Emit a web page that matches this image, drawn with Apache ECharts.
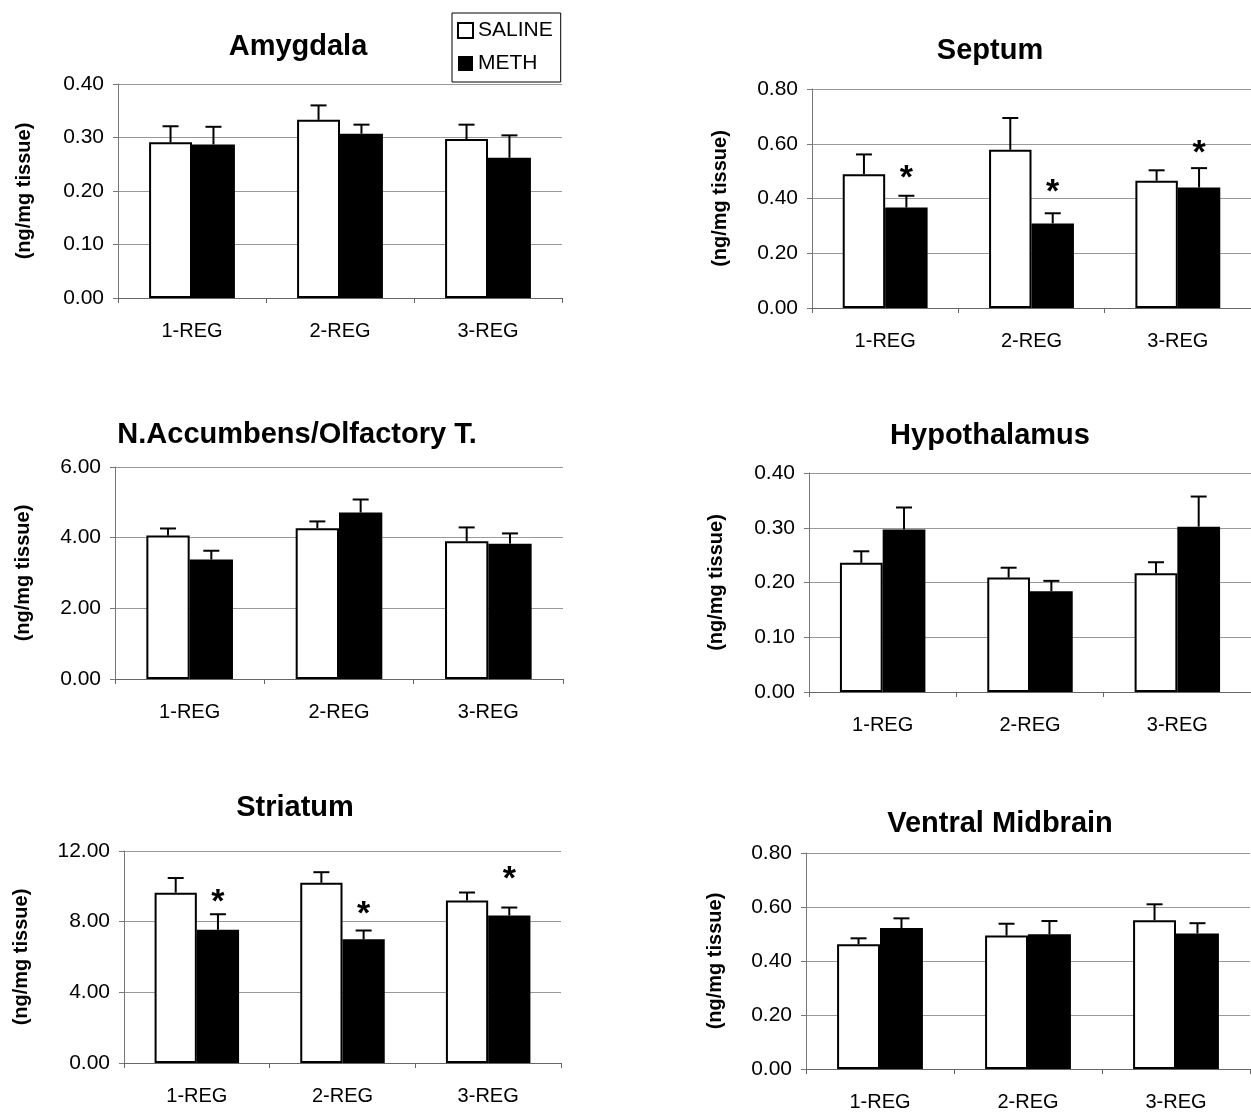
<!DOCTYPE html>
<html>
<head>
<meta charset="utf-8">
<script src="https://cdn.jsdelivr.net/npm/echarts@6/dist/echarts.min.js"></script>
<style>
html, body { margin: 0; padding: 0; background: #fff; }
#main { width: 1251px; height: 1112px; }
</style>
</head>
<body>
<div id="main"></div>
<script>
var categories = ['1-REG', '2-REG', '3-REG'];

// Amygdala
var amygSaline = [0.291, 0.333, 0.297];
var amygSalineErr = [0.321, 0.360, 0.324];
var amygMeth = [0.287, 0.307, 0.262];
var amygMethErr = [0.320, 0.324, 0.304];
var amygTicks = [0, 0.4, 0.1];

// Septum
var septSaline = [0.489, 0.578, 0.465];
var septSalineErr = [0.561, 0.694, 0.503];
var septMeth = [0.367, 0.309, 0.440];
var septMethErr = [0.410, 0.346, 0.511];
var septStars = [0.498, 0.446, 0.590];
var septTicks = [0, 0.8, 0.2];

// N.Accumbens / Olfactory T.
var naccSaline = [4.06, 4.27, 3.90];
var naccSalineErr = [4.26, 4.46, 4.29];
var naccMeth = [3.38, 4.71, 3.83];
var naccMethErr = [3.63, 5.08, 4.12];
var naccTicks = [0, 6, 2];

// Hypothalamus
var hypoSaline = [0.236, 0.209, 0.217];
var hypoSalineErr = [0.257, 0.227, 0.237];
var hypoMeth = [0.297, 0.184, 0.302];
var hypoMethErr = [0.337, 0.203, 0.357];
var hypoTicks = [0, 0.4, 0.1];

// Striatum
var striSaline = [9.64, 10.2, 9.2];
var striSalineErr = [10.47, 10.8, 9.65];
var striMeth = [7.54, 7.0, 8.35];
var striMethErr = [8.42, 7.5, 8.8];
var striStars = [9.5, 8.8, 10.75];
var striTicks = [0, 12, 4];

// Ventral Midbrain
var vmbSaline = [0.462, 0.494, 0.551];
var vmbSalineErr = [0.484, 0.538, 0.610];
var vmbMeth = [0.522, 0.499, 0.502];
var vmbMethErr = [0.558, 0.548, 0.540];
var vmbTicks = [0, 0.8, 0.2];

var FONT = '"Liberation Sans", Arial, sans-serif';
var BAR_RATIO = 0.29;

var panels = [
  { title: 'Amygdala', tx: 298, ty: 47, grid: { left: 118, top: 84, width: 444, height: 214 }, gap: 84,
    saline: amygSaline, salineErr: amygSalineErr, meth: amygMeth, methErr: amygMethErr, ticks: amygTicks },
  { title: 'Septum', tx: 990, ty: 51, grid: { left: 812, top: 89, width: 440, height: 219 }, gap: 82,
    saline: septSaline, salineErr: septSalineErr, meth: septMeth, methErr: septMethErr, stars: septStars, ticks: septTicks },
  { title: 'N.Accumbens/Olfactory T.', tx: 297, ty: 435, grid: { left: 115, top: 467, width: 448, height: 212 }, gap: 82,
    saline: naccSaline, salineErr: naccSalineErr, meth: naccMeth, methErr: naccMethErr, ticks: naccTicks },
  { title: 'Hypothalamus', tx: 990, ty: 436, grid: { left: 809, top: 473, width: 442, height: 219 }, gap: 83,
    saline: hypoSaline, salineErr: hypoSalineErr, meth: hypoMeth, methErr: hypoMethErr, ticks: hypoTicks },
  { title: 'Striatum', tx: 295, ty: 808, grid: { left: 124, top: 851, width: 437, height: 212 }, gap: 93,
    saline: striSaline, salineErr: striSalineErr, meth: striMeth, methErr: striMethErr, stars: striStars, ticks: striTicks },
  { title: 'Ventral Midbrain', tx: 1000, ty: 824, grid: { left: 806, top: 853, width: 444, height: 216 }, gap: 81,
    saline: vmbSaline, salineErr: vmbSalineErr, meth: vmbMeth, methErr: vmbMethErr, ticks: vmbTicks }
];

// error bar: vertical line from bar top up to mean+SEM, with a cap
function errRender(side) {
  return function (params, api) {
    var base = api.coord([api.value(0), api.value(1)]);
    var tip = api.coord([api.value(0), api.value(2)]);
    var bw = api.size([1, 0])[0] * BAR_RATIO;
    var x = base[0] + side * bw / 2;
    return {
      type: 'group',
      children: [
        { type: 'line', shape: { x1: x, y1: base[1], x2: x, y2: tip[1] }, style: { stroke: '#000', lineWidth: 2 } },
        { type: 'line', shape: { x1: x - 8, y1: tip[1], x2: x + 8, y2: tip[1] }, style: { stroke: '#000', lineWidth: 2 } }
      ]
    };
  };
}

function starRender(params, api) {
  var p = api.coord([api.value(0), api.value(1)]);
  var bw = api.size([1, 0])[0] * BAR_RATIO;
  return {
    type: 'text',
    x: p[0] + bw / 2,
    y: p[1] + 7,
    style: { text: '*', font: 'bold 34px ' + FONT, fill: '#000', textAlign: 'center', textVerticalAlign: 'middle' }
  };
}

var grids = [], xAxes = [], yAxes = [], series = [], graphics = [];

panels.forEach(function (p, i) {
  grids.push(p.grid);
  graphics.push({
    type: 'text', x: p.tx, y: p.ty,
    style: { text: p.title, font: 'bold 29px ' + FONT, fill: '#000', textAlign: 'center', textVerticalAlign: 'middle' }
  });
  xAxes.push({
    type: 'category', gridIndex: i, data: categories,
    axisLine: { lineStyle: { color: '#666', width: 1 } },
    axisTick: { show: true, length: 5, lineStyle: { color: '#666' } },
    axisLabel: { color: '#000', fontSize: 20, fontFamily: FONT, margin: 23 }
  });
  yAxes.push({
    type: 'value', gridIndex: i, min: p.ticks[0], max: p.ticks[1], interval: p.ticks[2],
    name: '(ng/mg tissue)', nameLocation: 'middle', nameRotate: 90, nameGap: p.gap,
    nameTextStyle: { color: '#000', fontSize: 20, fontWeight: 'bold', fontFamily: FONT },
    axisLine: { show: true, lineStyle: { color: '#777', width: 1 } },
    axisTick: { show: true, length: 5, lineStyle: { color: '#777' } },
    splitLine: { show: true, lineStyle: { color: '#999', width: 1 } },
    axisLabel: { color: '#000', fontSize: 21, fontFamily: FONT, margin: 14,
      formatter: function (v) { return v.toFixed(2); } }
  });
  series.push({
    name: 'SALINE', type: 'bar', xAxisIndex: i, yAxisIndex: i, data: p.saline,
    barWidth: (BAR_RATIO * 100) + '%', barGap: '0%',
    itemStyle: { color: '#fff', borderColor: '#000', borderWidth: 2 }
  });
  series.push({
    name: 'METH', type: 'bar', xAxisIndex: i, yAxisIndex: i, data: p.meth,
    barWidth: (BAR_RATIO * 100) + '%', barGap: '0%',
    itemStyle: { color: '#000', borderColor: '#000', borderWidth: 2 }
  });
  series.push({
    name: 'err-saline', type: 'custom', xAxisIndex: i, yAxisIndex: i, silent: true, z: 5,
    renderItem: errRender(-1),
    encode: { x: 0, y: [1, 2] },
    data: p.saline.map(function (v, k) { return [k, v, p.salineErr[k]]; })
  });
  series.push({
    name: 'err-meth', type: 'custom', xAxisIndex: i, yAxisIndex: i, silent: true, z: 5,
    renderItem: errRender(1),
    encode: { x: 0, y: [1, 2] },
    data: p.meth.map(function (v, k) { return [k, v, p.methErr[k]]; })
  });
  if (p.stars) {
    series.push({
      name: 'stars', type: 'custom', xAxisIndex: i, yAxisIndex: i, silent: true, z: 6,
      renderItem: starRender,
      encode: { x: 0, y: 1 },
      data: p.stars.map(function (v, k) { return [k, v]; })
    });
  }
});

var chart = echarts.init(document.getElementById('main'));
chart.setOption({
  backgroundColor: '#fff',
  animation: false,
  textStyle: { fontFamily: FONT },
  legend: {
    orient: 'vertical', left: 452, top: 13,
    padding: [7, 8, 8, 5], itemGap: 12, itemWidth: 15, itemHeight: 15,
    borderColor: '#000', borderWidth: 1, selectedMode: false,
    textStyle: { color: '#000', fontSize: 21, fontFamily: FONT },
    data: [
      { name: 'SALINE', icon: 'rect', itemStyle: { color: '#fff', borderColor: '#000', borderWidth: 2 } },
      { name: 'METH', icon: 'rect', itemStyle: { color: '#000', borderColor: '#000', borderWidth: 0 } }
    ]
  },
  grid: grids,
  xAxis: xAxes,
  yAxis: yAxes,
  graphic: graphics,
  series: series
});
</script>
</body>
</html>
